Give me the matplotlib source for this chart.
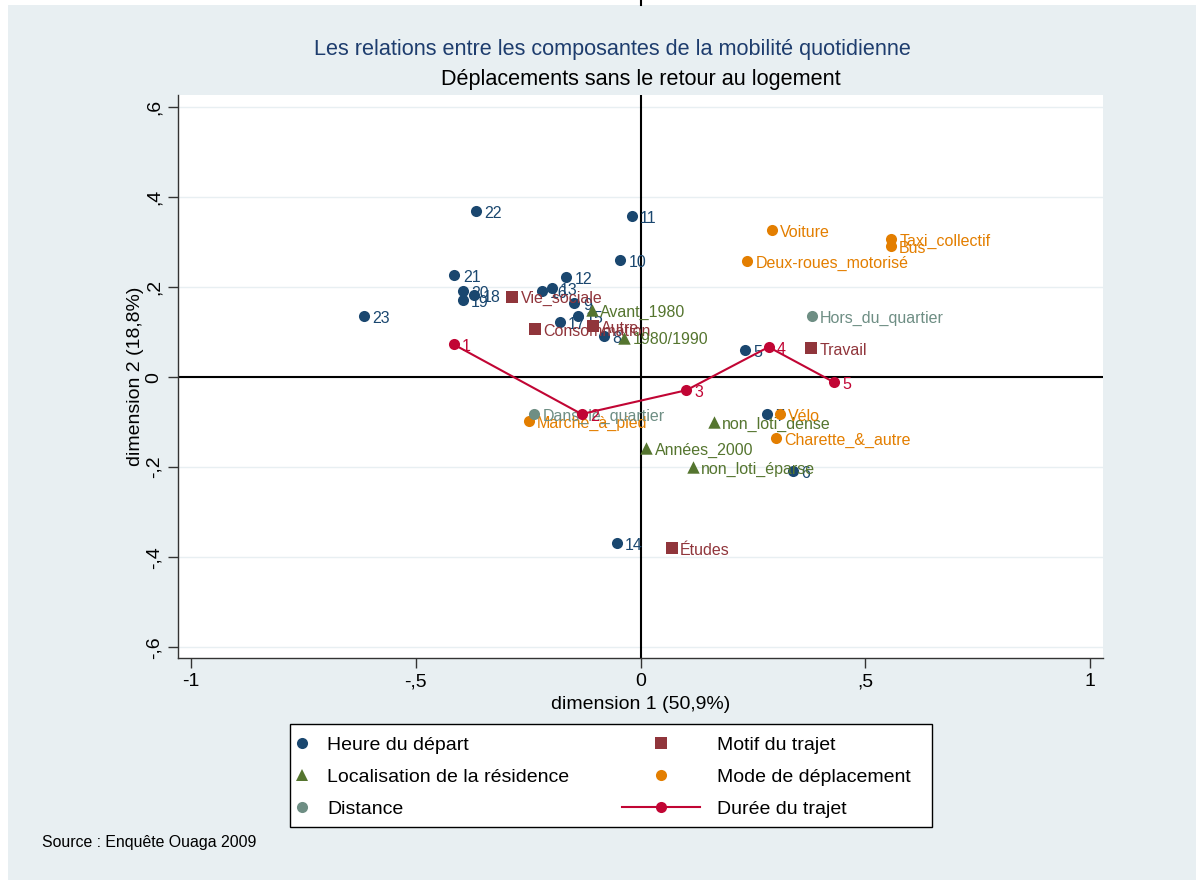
import matplotlib.pyplot as plt
from matplotlib.patches import Rectangle
from matplotlib.lines import Line2D

plt.rcParams['font.family'] = ['Liberation Sans', 'DejaVu Sans']

# Heure du départ
heures = ['5', '6', '7', '8', '9', '10', '11', '12', '13', '14', '15', '16',
          '17', '18', '19', '20', '21', '22', '23']
heure_x = [0.232, 0.339, 0.281, -0.082, -0.147, -0.045, -0.020, -0.165, -0.198,
           -0.053, -0.140, -0.220, -0.180, -0.370, -0.396, -0.396, -0.414, -0.367, -0.615]
heure_y = [0.060, -0.209, -0.082, 0.091, 0.164, 0.260, 0.358, 0.222, 0.198,
           -0.369, 0.136, 0.191, 0.122, 0.182, 0.171, 0.191, 0.227, 0.369, 0.136]

# Motif du trajet
motifs = ['Vie_sociale', 'Consommation', 'Autre', 'Travail', 'Études']
motif_x = [-0.285, -0.234, -0.106, 0.379, 0.069]
motif_y = [0.179, 0.106, 0.113, 0.064, -0.380]

# Localisation de la résidence
locs = ['Avant_1980', '1980/1990', 'Années_2000', 'non_loti_dense', 'non_loti_éparse']
loc_x = [-0.109, -0.036, 0.013, 0.163, 0.116]
loc_y = [0.149, 0.088, -0.158, -0.100, -0.200]

# Mode de déplacement
modes = ['Voiture', 'Taxi_collectif', 'Bus', 'Deux-roues_motorisé', 'Vélo',
         'Charette_&_autre', 'Marche_à_pied']
mode_x = [0.292, 0.557, 0.557, 0.238, 0.310, 0.301, -0.249]
mode_y = [0.327, 0.307, 0.291, 0.258, -0.082, -0.136, -0.098]

# Distance
dists = ['Hors_du_quartier', 'Dans_le_quartier']
dist_x = [0.381, -0.236]
dist_y = [0.136, -0.082]

# Durée du trajet
durees = ['1', '2', '3', '4', '5']
duree_x = [-0.416, -0.131, 0.102, 0.285, 0.430]
duree_y = [0.073, -0.082, -0.029, 0.067, -0.011]

xticks = [-1, -0.5, 0, 0.5, 1]
xtick_labels = ['-1', '-,5', '0', ',5', '1']
yticks = [-0.6, -0.4, -0.2, 0, 0.2, 0.4, 0.6]
ytick_labels = ['-,6', '-,4', '-,2', '0', ',2', ',4', ',6']

navy = '#1a476f'
maroon = '#90353b'
green = '#55752f'
orange = '#e37e00'
teal = '#6e8e84'
cranberry = '#c10534'
bg = '#e8eff2'

W, H = 1196, 880
fig = plt.figure(figsize=(W / 100, H / 100), dpi=100, facecolor='white')
fig.add_artist(Rectangle((8 / W, 0), 1 - 8 / W, 1 - 5 / H, transform=fig.transFigure,
                         facecolor=bg, edgecolor='none', zorder=-10))
fig.add_artist(Line2D([641 / W, 641 / W], [1 - 5 / H, 1], transform=fig.transFigure,
                      color='black', lw=1.5))

ax = fig.add_axes([178 / W, 1 - 658 / H, (1103 - 178) / W, (658 - 95) / H])
ax.set_facecolor('white')
ax.set_xlim(-1.029, 1.029)
ax.set_ylim(-0.624, 0.627)

for t in yticks:
    ax.axhline(t, color=bg, lw=1.0, zorder=0)
ax.axhline(0, color='black', lw=1.5, zorder=1)
ax.axvline(0, color='black', lw=1.5, zorder=1)

ms = 64
lab_fs = 11.5


def draw_group(xs, ys, names, color, marker, z, size=ms):
    # each series is drawn on top of the previous one, marker then labels
    ax.scatter(xs, ys, s=size, color=color, marker=marker, zorder=z, linewidths=0)
    for x, y, n in zip(xs, ys, names):
        ax.annotate(n, (x, y), xytext=(6, -1.5), textcoords='offset points',
                    va='center', ha='left', fontsize=lab_fs, color=color, zorder=z + 0.5)


draw_group(heure_x, heure_y, heures, navy, 'o', 3)
draw_group(motif_x, motif_y, motifs, maroon, 's', 4, 70)
draw_group(loc_x, loc_y, locs, green, '^', 5, 80)
draw_group(mode_x, mode_y, modes, orange, 'o', 6)
draw_group(dist_x, dist_y, dists, teal, 'o', 7)

ax.plot(duree_x, duree_y, color=cranberry, lw=1.5, marker='o', markersize=8,
        markeredgewidth=0, zorder=8)
for x, y, n in zip(duree_x, duree_y, durees):
    ax.annotate(n, (x, y), xytext=(6, -1.5), textcoords='offset points',
                va='center', ha='left', fontsize=lab_fs, color=cranberry, zorder=8.5)

ax.set_xticks(xticks)
ax.set_xticklabels(xtick_labels)
ax.set_yticks(yticks)
ax.set_yticklabels(ytick_labels, rotation=90, va='center')
ax.tick_params(axis='both', labelsize=14, length=7, width=1, color='#333333', pad=4)
for side in ['top', 'right']:
    ax.spines[side].set_visible(False)
for side in ['left', 'bottom']:
    ax.spines[side].set_color('#333333')
    ax.spines[side].set_linewidth(1)

ax.set_xlabel('dimension 1 (50,9%)', fontsize=14, labelpad=4)
ax.set_ylabel('dimension 2 (18,8%)', fontsize=14, labelpad=1)

fig.text(612 / W, 1 - 50 / H, 'Les relations entre les composantes de la mobilité quotidienne',
         ha='center', va='center', fontsize=15.6, color='#1e3d6e')
fig.text(641 / W, 1 - 80 / H, 'Déplacements sans le retour au logement',
         ha='center', va='center', fontsize=15.6, color='black')
fig.text(42 / W, 1 - 842 / H, 'Source : Enquête Ouaga 2009', ha='left', va='center',
         fontsize=11.4, color='black')

# legend box with two columns
fig.add_artist(Rectangle((290 / W, 1 - 827 / H), (932 - 290) / W, (827 - 724) / H,
                         transform=fig.transFigure, facecolor='white',
                         edgecolor='black', lw=1, zorder=5))
h1 = [Line2D([], [], ls='none', marker='o', color=navy, markersize=8, markeredgewidth=0),
      Line2D([], [], ls='none', marker='^', color=green, markersize=8, markeredgewidth=0),
      Line2D([], [], ls='none', marker='o', color=teal, markersize=8, markeredgewidth=0)]
l1 = ['Heure du départ', 'Localisation de la résidence', 'Distance']
h2 = [Line2D([], [], ls='none', marker='s', color=maroon, markersize=8, markeredgewidth=0),
      Line2D([], [], ls='none', marker='o', color=orange, markersize=8, markeredgewidth=0),
      Line2D([], [], color=cranberry, lw=1.5, marker='o', markersize=8, markeredgewidth=0)]
l2 = ['Motif du trajet', 'Mode de déplacement', 'Durée du trajet']

leg1 = fig.legend(h1, l1, loc='upper left', bbox_to_anchor=(290 / W, 1 - 732 / H),
                  frameon=False, fontsize=14, handlelength=0.8, handletextpad=0.9,
                  labelspacing=0.75, borderaxespad=0, borderpad=0.2)
leg1.set_zorder(6)
leg2 = fig.legend(h2, l2, loc='upper left', bbox_to_anchor=(618 / W, 1 - 732 / H),
                  frameon=False, fontsize=14, handlelength=4.0, handletextpad=0.9,
                  labelspacing=0.75, borderaxespad=0, borderpad=0.2)
leg2.set_zorder(6)

fig.savefig('out.png', dpi=100, facecolor='white')
